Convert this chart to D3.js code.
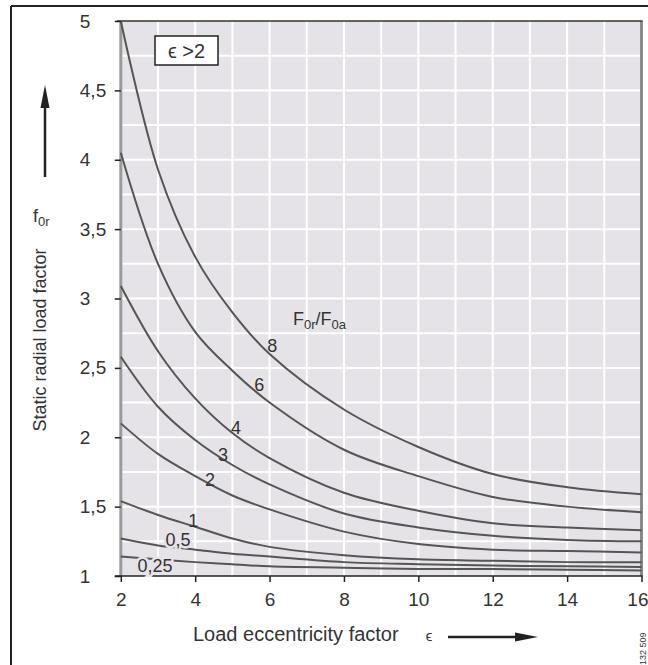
<!DOCTYPE html>
<html>
<head>
<meta charset="utf-8">
<script src="https://cdn.jsdelivr.net/npm/d3@7"></script>
<style>
  body { margin: 0; background: #fff; }
  text { font-family: "Liberation Sans", Arial, sans-serif; fill: #333; }
</style>
</head>
<body>
<div id="svg-container"></div>
<script>
// data
const eps = [2, 3, 4, 5, 6, 8, 10, 12, 14, 16];
const ratioLabels = ["8", "6", "4", "3", "2", "1", "0,5", "0,25"];
const f8 = [5.0, 3.93, 3.30, 2.90, 2.60, 2.20, 1.93, 1.735, 1.64, 1.59];
const f6 = [4.05, 3.25, 2.76, 2.48, 2.25, 1.91, 1.72, 1.57, 1.50, 1.46];
const f4 = [3.09, 2.62, 2.28, 2.03, 1.85, 1.60, 1.47, 1.38, 1.35, 1.33];
const f3 = [2.58, 2.22, 1.98, 1.80, 1.66, 1.45, 1.35, 1.29, 1.26, 1.25];
const f2 = [2.10, 1.88, 1.72, 1.58, 1.48, 1.32, 1.23, 1.19, 1.18, 1.17];
const f1 = [1.54, 1.44, 1.355, 1.27, 1.21, 1.15, 1.12, 1.11, 1.10, 1.10];
const f05 = [1.27, 1.22, 1.19, 1.16, 1.14, 1.10, 1.085, 1.075, 1.07, 1.065];
const f025 = [1.14, 1.12, 1.10, 1.085, 1.07, 1.06, 1.05, 1.05, 1.045, 1.04];
// where each curve label sits (eps, f)
const labelEps = [6.07, 5.72, 5.1, 4.75, 4.4, 3.95, 3.54, 2.92];
const labelF = [2.66, 2.38, 2.07, 1.87, 1.69, 1.40, 1.26, 1.07];
const xTicks = [2, 4, 6, 8, 10, 12, 14, 16];
const yTicks = [1, 1.5, 2, 2.5, 3, 3.5, 4, 4.5, 5];

const series = [f8, f6, f4, f3, f2, f1, f05, f025];

////////////////////////////  Init  ///////////////////////////////
const width = 648;
const height = 665;
const svg = d3.select("#svg-container").append("svg")
  .attr("width", width).attr("height", height);

const xScale = d3.scaleLinear().domain([2, 16]).range([120.8, 641.5]);
const yScale = d3.scaleLinear().domain([1, 5]).range([576, 21]);
const fmt = (d) => String(d).replace(".", ",");

// outer frame (top + left lines)
svg.append("line").attr("x1", 11).attr("x2", width).attr("y1", 6).attr("y2", 6)
  .attr("stroke", "#222").attr("stroke-width", 2);
svg.append("line").attr("x1", 11).attr("x2", 11).attr("y1", 6).attr("y2", height)
  .attr("stroke", "#222").attr("stroke-width", 2);

// plot background
svg.append("rect")
  .attr("x", xScale(2)).attr("y", yScale(5))
  .attr("width", xScale(16) - xScale(2))
  .attr("height", yScale(1) - yScale(5))
  .attr("fill", "#e5e3e7");

// grid
svg.append("g").selectAll("line")
  .data(d3.range(3, 16))
  .join("line")
  .attr("x1", (d) => xScale(d)).attr("x2", (d) => xScale(d))
  .attr("y1", yScale(5)).attr("y2", yScale(1))
  .attr("stroke", "#fff").attr("stroke-width", 2);
svg.append("g").selectAll("line")
  .data(d3.range(1.25, 5, 0.25))
  .join("line")
  .attr("x1", xScale(2)).attr("x2", xScale(16))
  .attr("y1", (d) => yScale(d)).attr("y2", (d) => yScale(d))
  .attr("stroke", "#fff").attr("stroke-width", 2);

// plot borders
svg.append("line").attr("x1", xScale(2)).attr("x2", xScale(2))
  .attr("y1", yScale(5)).attr("y2", yScale(1))
  .attr("stroke", "#9a9a9a").attr("stroke-width", 3);
svg.append("line").attr("x1", xScale(16)).attr("x2", xScale(16))
  .attr("y1", yScale(5)).attr("y2", yScale(1))
  .attr("stroke", "#8a8a8a").attr("stroke-width", 3);
svg.append("line").attr("x1", xScale(2) - 4).attr("x2", xScale(16) + 1)
  .attr("y1", yScale(5)).attr("y2", yScale(5))
  .attr("stroke", "#333").attr("stroke-width", 1.5);

// curves
const line = d3.line()
  .x((d, i) => xScale(eps[i]))
  .y((d) => yScale(d))
  .curve(d3.curveCatmullRom.alpha(0.5));

svg.append("g").selectAll("path")
  .data(series)
  .join("path")
  .attr("fill", "none")
  .attr("stroke", "#555")
  .attr("stroke-width", 2)
  .attr("d", line);

// axes
const xAxis = d3.axisBottom(xScale).tickValues(xTicks).tickSize(6).tickPadding(11);
const yAxis = d3.axisLeft(yScale).tickValues(yTicks).tickSize(6).tickFormat(fmt);

svg.append("g")
  .attr("class", "x-axis")
  .attr("transform", `translate(0, ${yScale(1)})`)
  .call(xAxis)
  .call((g) => g.select(".domain").remove())
  .call((g) => g.selectAll(".tick line").attr("stroke", "#222").attr("stroke-width", 1.5))
  .call((g) => g.selectAll(".tick text")
    .style("font-size", "19px").attr("fill", "#333"))
  .call((g) => g.selectAll(".tick text").filter((d) => d === 16)
    .attr("text-anchor", "end").attr("x", 6.5));

svg.append("g")
  .attr("class", "y-axis")
  .attr("transform", `translate(${xScale(2)}, 0)`)
  .call(yAxis)
  .call((g) => g.select(".domain").remove())
  .call((g) => g.selectAll(".tick line").attr("stroke", "#222").attr("stroke-width", 1.5))
  .call((g) => g.selectAll(".tick text")
    .attr("x", -41).attr("text-anchor", "start")
    .style("font-size", "19px").attr("fill", "#333"));

// bottom axis line
svg.append("line").attr("x1", xScale(2) - 6).attr("x2", xScale(16) + 1)
  .attr("y1", yScale(1)).attr("y2", yScale(1))
  .attr("stroke", "#222").attr("stroke-width", 1.5);

// curve labels
const bg = "#e5e3e7";
svg.append("g").selectAll("text")
  .data(ratioLabels)
  .join("text")
  .attr("x", (d, i) => xScale(labelEps[i]))
  .attr("y", (d, i) => yScale(labelF[i]))
  .attr("text-anchor", "middle")
  .attr("dominant-baseline", "central")
  .style("font-size", "18px")
  .attr("stroke", (d, i) => (i >= 6 ? bg : "none"))
  .attr("stroke-width", 5)
  .attr("paint-order", "stroke")
  .text((d) => d);

// F0r/F0a
const ratioTitle = svg.append("text")
  .attr("x", xScale(6.63)).attr("y", yScale(2.85) + 6)
  .style("font-size", "18px");
ratioTitle.append("tspan").text("F");
ratioTitle.append("tspan").attr("dy", 4).style("font-size", "13px").text("0r");
ratioTitle.append("tspan").attr("dy", -4).text("/F");
ratioTitle.append("tspan").attr("dy", 4).style("font-size", "13px").text("0a");

// eps > 2 box
svg.append("rect").attr("x", 155).attr("y", 36).attr("width", 63).attr("height", 29)
  .attr("fill", "#fff").attr("stroke", "#222").attr("stroke-width", 1.5);
svg.append("text").attr("x", 186.5).attr("y", 51).attr("text-anchor", "middle")
  .attr("dominant-baseline", "central").style("font-size", "20px").text("ϵ >2");

// y title + arrow
svg.append("text")
  .attr("transform", "translate(46, 340) rotate(-90)")
  .attr("text-anchor", "middle")
  .style("font-size", "18px")
  .text("Static radial load factor");
const fTitle = svg.append("text").attr("x", 33).attr("y", 222).style("font-size", "18px");
fTitle.append("tspan").text("f");
fTitle.append("tspan").attr("dy", 4).style("font-size", "13px").text("0r");

svg.append("line").attr("x1", 45).attr("x2", 45).attr("y1", 177).attr("y2", 100)
  .attr("stroke", "#222").attr("stroke-width", 2.5);
svg.append("path").attr("d", "M45,85 L40.5,108 L49.5,108 Z").attr("fill", "#222");

// x title + arrow
svg.append("text").attr("x", 193).attr("y", 641).style("font-size", "20px")
  .text("Load eccentricity factor");
svg.append("text").attr("x", 429).attr("y", 641).attr("text-anchor", "middle")
  .style("font-size", "15px").text("ϵ");
svg.append("line").attr("x1", 448).attr("x2", 520).attr("y1", 637).attr("y2", 637)
  .attr("stroke", "#222").attr("stroke-width", 2.5);
svg.append("path").attr("d", "M538,637 L515,632.5 L515,641.5 Z").attr("fill", "#222");

// figure number
svg.append("text").attr("transform", "translate(646, 665) rotate(-90)")
  .style("font-size", "9px").attr("fill", "#666").text("132 509");
</script>
</body>
</html>
